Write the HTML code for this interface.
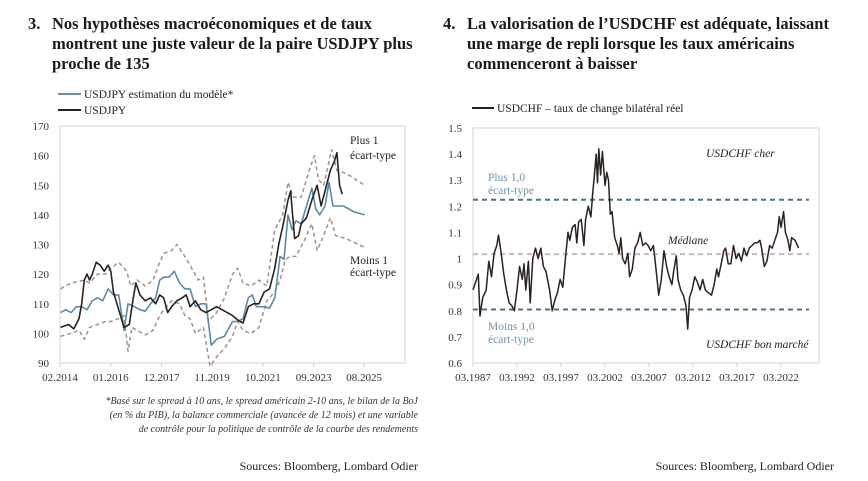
<!DOCTYPE html>
<html><head><meta charset="utf-8">
<style>
body{margin:0;background:#fff;width:868px;height:481px;overflow:hidden}
svg{display:block;font-family:"Liberation Serif",serif}
.t{font-weight:bold;font-size:16.5px;fill:#1a1a1a}
.tk{font-size:11px;fill:#333}
.lg{font-size:11.5px;fill:#222}
</style></head><body>
<svg id="s" width="868" height="481">
<g>
<text class="t" x="28" y="29">3.</text>
<text class="t" x="52" y="29">Nos hypothèses macroéconomiques et de taux</text>
<text class="t" x="52" y="49">montrent une juste valeur de la paire USDJPY plus</text>
<text class="t" x="52" y="69">proche de 135</text>
</g>
<g>
<text class="t" x="443" y="29">4.</text>
<text class="t" x="467" y="29">La valorisation de l’USDCHF est adéquate, laissant</text>
<text class="t" x="467" y="49">une marge de repli lorsque les taux américains</text>
<text class="t" x="467" y="69">commenceront à baisser</text>
</g>
<g>
<line x1="58" y1="94" x2="81" y2="94" stroke="#6f8fa8" stroke-width="2"/>
<text class="lg" x="84" y="98">USDJPY estimation du modèle*</text>
<line x1="58" y1="110" x2="81" y2="110" stroke="#222" stroke-width="2"/>
<text class="lg" x="84" y="114">USDJPY</text>
</g>
<g>
<line x1="472" y1="108" x2="494" y2="108" stroke="#222" stroke-width="2"/>
<text class="lg" x="497" y="112">USDCHF – taux de change bilatéral réel</text>
</g>
<g id="L"></g><g id="R"></g>
<g font-style="italic" font-size="10" fill="#333" text-anchor="end">
<text x="418" y="404">*Basé sur le spread à 10 ans, le spread américain 2-10 ans, le bilan de  la BoJ</text>
<text x="418" y="418">(en % du PIB), la balance commerciale (avancée de 12 mois) et une variable</text>
<text x="418" y="432">de contrôle pour la politique de contrôle de la courbe des rendements</text>
</g>
<text x="418" y="470" text-anchor="end" font-size="12" fill="#222">Sources: Bloomberg, Lombard Odier</text>
<text x="834" y="470" text-anchor="end" font-size="12" fill="#222">Sources: Bloomberg, Lombard Odier</text>
</svg>
<script>
// Left chart data
const jpyT=[2014.1,2014.4,2014.6,2014.8,2014.9,2015.0,2015.1,2015.2,2015.3,2015.45,2015.6,2015.75,2015.9,2016.0,2016.1,2016.3,2016.5,2016.7,2016.85,2016.95,2017.1,2017.3,2017.5,2017.7,2017.85,2018.0,2018.15,2018.3,2018.5,2018.7,2018.85,2019.0,2019.2,2019.4,2019.6,2019.8,2020.0,2020.2,2020.4,2020.6,2020.8,2021.0,2021.2,2021.4,2021.6,2021.8,2022.0,2022.2,2022.35,2022.5,2022.7,2022.8,2022.95,2023.1,2023.2,2023.4,2023.6,2023.8,2023.95,2024.1,2024.3,2024.45,2024.55,2024.65,2024.75];
const jpyV=[102,103,101.5,105,110,118,120,118,120,124,123,121,123,121,114,108,102,103,112,117,113,111,112,110,113,112,107,109,111,112,113,109,111,108,107,108,109,108,107,106,104.5,103.5,109,110,110,114,115,122,130,136,145,148,132,133,137,139,145,150,143,148,155,158,161,150,147];
const modT=[2014.1,2014.3,2014.5,2014.7,2014.9,2015.1,2015.3,2015.5,2015.7,2015.9,2016.1,2016.3,2016.5,2016.65,2016.9,2017.1,2017.3,2017.5,2017.7,2017.85,2018.0,2018.2,2018.4,2018.6,2018.8,2019.0,2019.2,2019.4,2019.6,2019.8,2020.0,2020.3,2020.6,2020.8,2021.0,2021.2,2021.35,2021.5,2021.8,2022.0,2022.2,2022.4,2022.55,2022.7,2022.85,2023.0,2023.2,2023.4,2023.6,2023.75,2023.9,2024.1,2024.25,2024.4,2024.8,2025.2,2025.6];
const modV=[107,108,107,109,109,108,111,112,111,115,113,113,101,110,109,108,107.5,110,112,118,119,119,121,117,115,115,109,110,110,96,98,99,104,104,105,112,113,109,109,108.5,112,126,125,140,135,138,137,143,149,142,140,143,151,143,143,141,140];
const upT=[2014.1,2014.5,2015.0,2015.2,2015.5,2015.8,2016.0,2016.3,2016.6,2016.75,2017.0,2017.3,2017.6,2017.85,2018.0,2018.3,2018.5,2018.8,2019.0,2019.3,2019.5,2019.7,2020.0,2020.3,2020.6,2020.8,2021.0,2021.3,2021.6,2021.9,2022.2,2022.5,2022.7,2022.9,2023.2,2023.5,2023.7,2023.85,2024.05,2024.35,2024.55,2024.9,2025.6];
const upV=[115,117,118,117,120,120,122,124,121,116,118,116,118,124,127,128,130,126,123,118,119,104,107,112,120,122,117,116,118,116,135,140,151,146,146,155,160,152,150,162,155,154,150];
const loT=[2014.1,2014.5,2014.8,2015.0,2015.2,2015.5,2015.8,2016.0,2016.3,2016.5,2016.65,2016.8,2017.0,2017.3,2017.6,2017.85,2018.0,2018.3,2018.6,2018.8,2019.0,2019.2,2019.5,2019.75,2020.0,2020.3,2020.6,2020.8,2021.0,2021.3,2021.6,2021.9,2022.2,2022.4,2022.6,2022.8,2023.0,2023.3,2023.6,2023.8,2024.0,2024.3,2024.5,2024.9,2025.6];
const loV=[99,100,101,98,102,103,104,104,105,106,94,102,101,99.5,101,106,108,111,110,106,105,100,102,89,92,95,99,104,101,100,102,111,114,118,125,126,126,131,137,128,132,139,133,132,129];
const lTicksY=[90,100,110,120,130,140,150,160,170];
const lTicksX=[[2014.08,"02.2014"],[2016.0,"01.2016"],[2017.92,"12.2017"],[2019.83,"11.2019"],[2021.75,"10.2021"],[2023.67,"09.2023"],[2025.58,"08.2025"]];
// Right chart data
const chfT=[1987.2,1987.5,1987.8,1988.0,1988.3,1988.7,1989.0,1989.3,1989.6,1989.9,1990.1,1990.4,1990.7,1991.0,1991.3,1991.6,1991.9,1992.2,1992.5,1992.8,1993.0,1993.2,1993.5,1993.7,1994.0,1994.3,1994.6,1994.9,1995.2,1995.5,1995.9,1996.2,1996.5,1996.8,1997.1,1997.4,1997.7,1998.0,1998.2,1998.5,1998.8,1999.0,1999.2,1999.5,1999.8,2000.0,2000.3,2000.6,2000.8,2001.0,2001.2,2001.35,2001.5,2001.7,2001.9,2002.2,2002.4,2002.6,2002.8,2003.0,2003.3,2003.6,2003.8,2004.0,2004.2,2004.5,2004.8,2005.0,2005.3,2005.6,2005.9,2006.2,2006.5,2006.8,2007.1,2007.4,2007.7,2008.0,2008.3,2008.6,2008.9,2009.2,2009.5,2009.8,2010.0,2010.3,2010.5,2010.8,2011.1,2011.4,2011.6,2011.8,2012.1,2012.4,2012.7,2013.0,2013.3,2013.6,2013.9,2014.3,2014.6,2014.9,2015.1,2015.4,2015.7,2015.9,2016.2,2016.5,2016.8,2017.1,2017.4,2017.7,2018.0,2018.3,2018.6,2018.9,2019.2,2019.5,2019.8,2020.0,2020.3,2020.6,2020.9,2021.2,2021.5,2021.8,2022.0,2022.2,2022.5,2022.7,2023.0,2023.2,2023.4,2023.8,2024.2];
const chfV=[0.88,0.91,0.94,0.78,0.85,0.88,0.99,0.93,1.02,1.05,1.09,1.02,0.94,0.88,0.83,0.82,0.80,0.88,0.97,0.92,0.98,0.88,0.99,0.83,1.0,1.04,1.0,1.04,0.97,0.95,0.88,0.80,0.84,0.87,0.92,0.89,1.0,1.1,1.07,1.12,1.13,1.06,1.14,1.15,1.05,1.15,1.2,1.16,1.25,1.32,1.4,1.29,1.42,1.32,1.41,1.28,1.33,1.3,1.17,1.18,1.08,1.05,1.02,1.08,1.0,0.98,1.02,0.93,0.96,1.04,1.06,1.1,1.05,1.06,1.05,1.03,1.05,0.96,0.86,0.92,1.03,0.97,0.93,0.9,0.95,1.01,0.92,0.88,0.86,0.82,0.73,0.85,0.88,0.93,0.91,0.88,0.92,0.88,0.87,0.86,0.9,0.96,0.93,0.98,1.03,1.04,0.98,0.98,1.05,1.0,1.02,0.99,1.04,1.01,1.04,1.05,1.06,1.06,1.07,1.04,0.97,0.99,1.05,1.04,1.07,1.1,1.16,1.12,1.18,1.1,1.07,1.03,1.08,1.07,1.04];
const chfLevels=[1.225,1.017,0.805];
const rTicksY=[0.6,0.7,0.8,0.9,1,1.1,1.2,1.3,1.4,1.5];
const rTicksYLab=["0.6","0.7","0.8","0.9","1","1.1","1.2","1.3","1.4","1.5"];
const rTicksX=[1987.2,1992.2,1997.2,2002.2,2007.2,2012.2,2017.2,2022.2];
const rTicksXLab=["03.1987","03.1992","03.1997","03.2002","03.2007","03.2012","03.2017","03.2022"];

const NS="http://www.w3.org/2000/svg";
function mk(p,tag,a){const e=document.createElementNS(NS,tag);for(const k in a)e.setAttribute(k,a[k]);p.appendChild(e);return e;}
// left axes
const lx=t=>60+(t-2014.08)*26.45, ly=v=>363-(v-90)*(237/80);
const L=document.getElementById('L');
let r=mk(L,'rect',{x:60,y:126,width:345,height:237,fill:'none',stroke:'#ddd2c8'});

lTicksY.forEach(v=>{const t=mk(L,'text',{x:49,y:ly(v)+4,'text-anchor':'end',class:'tk'});t.textContent=v;
});
lTicksX.forEach(([v,s])=>{mk(L,'line',{x1:lx(v),x2:lx(v),y1:363,y2:367,stroke:'#ccc'});const t=mk(L,'text',{x:lx(v),y:381,'text-anchor':'middle',class:'tk'});t.textContent=s;
});
function line(p,T,V,fx,fy,st,name){const d=T.map((t,i)=>(i?'L':'M')+fx(t).toFixed(1)+','+fy(V[i]).toFixed(1)).join('');
const e=mk(p,'path',Object.assign({d:d,fill:'none','stroke-linejoin':'round'},st));
}
line(L,upT,upV,lx,ly,{stroke:'#a39187','stroke-width':1.5,'stroke-dasharray':'4,3'},'upper-band-line');
line(L,loT,loV,lx,ly,{stroke:'#a39187','stroke-width':1.5,'stroke-dasharray':'4,3'},'lower-band-line');
line(L,modT,modV,lx,ly,{stroke:'#5b8aa6','stroke-width':1.6},'model-estimate-line');
line(L,jpyT,jpyV,lx,ly,{stroke:'#2b2220','stroke-width':1.6},'usdjpy-line');
[["Plus 1",350,144],["écart-type",350,159],["Moins 1",350,264],["écart-type",350,276]].forEach(([s,x,y])=>{const t=mk(L,'text',{x:x,y:y,class:'lg'});t.textContent=s;
});
// right axes
const rx=t=>473+(t-1987.2)*8.8, ry=v=>363-(v-0.6)*(235/0.9);
const R=document.getElementById('R');
r=mk(R,'rect',{x:473,y:128,width:346,height:235,fill:'none',stroke:'#ddd2c8'});

rTicksY.forEach((v,i)=>{const t=mk(R,'text',{x:462,y:ry(v)+4,'text-anchor':'end',class:'tk'});t.textContent=rTicksYLab[i];
});
rTicksX.forEach((v,i)=>{mk(R,'line',{x1:rx(v),x2:rx(v),y1:363,y2:367,stroke:'#ccc'});const t=mk(R,'text',{x:rx(v),y:381,'text-anchor':'middle',class:'tk'});t.textContent=rTicksXLab[i];
});
chfLevels.forEach((v,i)=>{const e=mk(R,'line',{x1:473,x2:809,y1:ry(v),y2:ry(v),stroke:i==1?'#cbb8ad':'#4a7389','stroke-width':i==1?2:2,'stroke-dasharray':'5,4'});
});
line(R,chfT,chfV,rx,ry,{stroke:'#2b2220','stroke-width':1.5},'usdchf-line');
[["Plus 1,0",488,181,'#6d94ad',''],["écart-type",488,194,'#6d94ad',''],["Moins 1,0",488,330,'#6d94ad',''],["écart-type",488,343,'#6d94ad',''],
 ["USDCHF cher",706,157,'#222','italic'],["Médiane",668,244,'#222','italic'],["USDCHF bon marché",706,348,'#222','italic']].forEach(([s,x,y,c,it])=>{
 const t=mk(R,'text',{x:x,y:y,class:'lg',fill:c,'font-style':it||'normal'});t.style.fill=c;t.textContent=s;
 });
</script>
</body></html>
